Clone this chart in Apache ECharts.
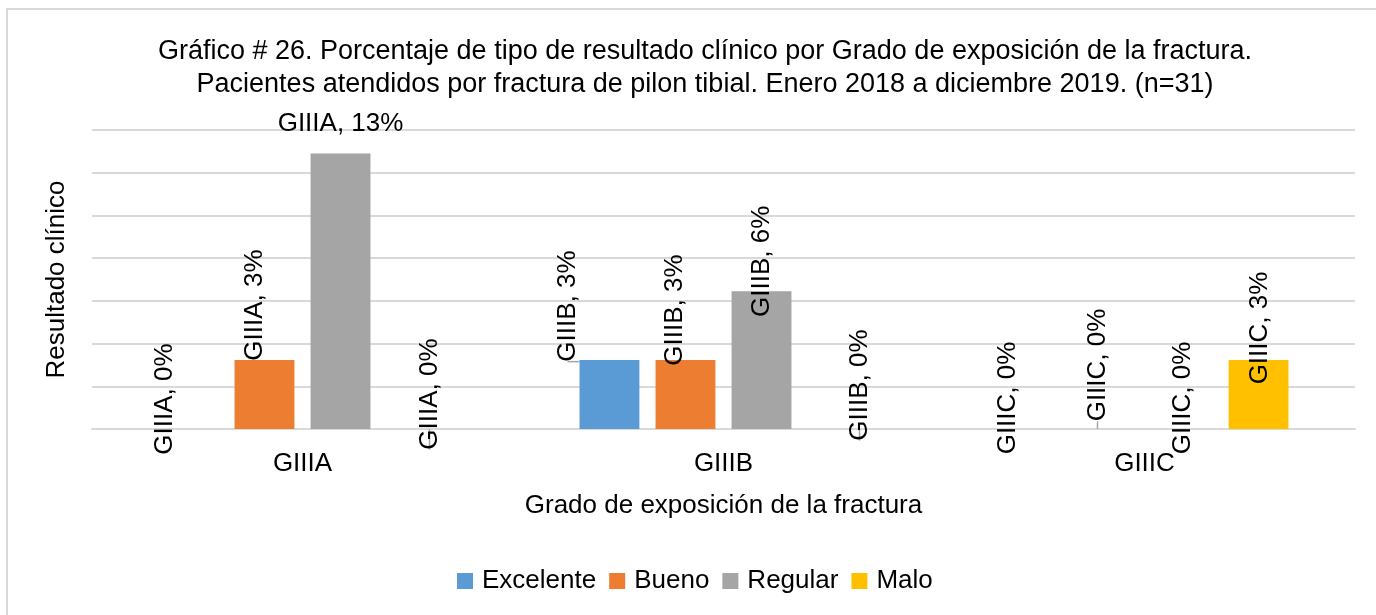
<!DOCTYPE html>
<html>
<head>
<meta charset="utf-8">
<script src="https://cdn.jsdelivr.net/npm/echarts@6/dist/echarts.min.js"></script>
<style>
html, body { margin: 0; padding: 0; background: #fff; }
#chart { width: 1376px; height: 615px; }
</style>
</head>
<body>
<div id="chart"></div>
<script>
// grados de exposicion
var categorias = ['GIIIA', 'GIIIB', 'GIIIC'];
// resultado clinico (% de n=31)
var excelente = [0, 3.23, 0];
var bueno = [3.23, 3.23, 0];
var regular = [12.9, 6.45, 0];
var malo = [0, 0, 3.23];
var ejeY = [0, 2, 4, 6, 8, 10, 12, 14];

var nombres = ['Excelente', 'Bueno', 'Regular', 'Malo'];
var valores = [excelente, bueno, regular, malo];
var colores = ['#5b9bd5', '#ed7d31', '#a5a5a5', '#ffc000'];

// desplazamiento de etiquetas en pantalla (como en el grafico original)
var despl = [
	[[-24, -30], [-42, -54], [-23, -31]],
	[[-10, -55], [-11, -50], [-9, -64]],
	[[0, -30], [0, -30], [0, -31]],
	[[13, -35], [22, -44], [1, -32]]
];
var conLinea = [
	[false, true, false],
	[true, true, true],
	[false, false, false],
	[true, true, false]
];

var fuente = 'Liberation Sans, Arial, sans-serif';

function esHorizontal(v) {
	return v > 10;
}

var series = [];
for (var s = 0; s < nombres.length; s++) {
	var datos = [];
	for (var i = 0; i < categorias.length; i++) {
		var horizontal = esHorizontal(valores[s][i]);
		datos.push({
			value: valores[s][i],
			label: { rotate: horizontal ? 0 : 90 },
			labelLine: { show: conLinea[s][i] }
		});
	}
	series.push({
		name: nombres[s],
		type: 'bar',
		data: datos,
		barGap: '27%',
		barCategoryGap: '31.6%',
		itemStyle: { color: colores[s] },
		label: {
			show: true,
			position: 'top',
			distance: 0,
			align: 'center',
			verticalAlign: 'middle',
			color: '#000',
			fontSize: 26,
			fontFamily: fuente,
			formatter: function (p) {
				return p.name + ', ' + Math.round(p.value) + '%';
			}
		},
		labelLine: { show: false, lineStyle: { color: '#a6a6a6', width: 1.5 } },
		labelLayout: (function (si) {
			return function (p) {
				var d = despl[si][p.dataIndex];
				if (esHorizontal(valores[si][p.dataIndex])) {
					return { dx: d[0], dy: d[1] };
				}
				// la etiqueta girada tambien gira el desplazamiento
				return { dx: -d[1], dy: d[0] };
			};
		})(s)
	});
}

var myChart = echarts.init(document.getElementById('chart'));
var option = {
	animation: false,
	textStyle: { fontFamily: fuente },
	title: {
		text: 'Gráfico # 26. Porcentaje de tipo de resultado clínico por Grado de exposición de la fractura.\nPacientes atendidos por fractura de pilon tibial. Enero 2018 a diciembre 2019. (n=31)',
		left: 700,
		textAlign: 'center',
		top: 30,
		textStyle: { fontSize: 27, fontWeight: 'normal', color: '#000', lineHeight: 33, fontFamily: fuente }
	},
	graphic: [{
		type: 'rect',
		shape: { x: 7, y: 9, width: 1500, height: 800 },
		style: { fill: 'none', stroke: '#d9d9d9', lineWidth: 2 },
		silent: true
	}],
	legend: {
		data: nombres,
		bottom: 16,
		left: 452,
		icon: 'rect',
		itemWidth: 16,
		itemHeight: 16,
		itemGap: 13,
		textStyle: { fontSize: 26, color: '#000', fontFamily: fuente, padding: [0, 0, 0, 4] }
	},
	grid: { left: 92, right: 21, top: 130, bottom: 186 },
	xAxis: {
		type: 'category',
		data: categorias,
		name: 'Grado de exposición de la fractura',
		nameLocation: 'middle',
		nameGap: 64,
		nameTextStyle: { fontSize: 26, color: '#000', fontFamily: fuente },
		axisLine: { lineStyle: { color: '#d9d9d9', width: 2 } },
		axisTick: { show: false },
		axisLabel: { fontSize: 26, color: '#000', margin: 22, fontFamily: fuente }
	},
	yAxis: {
		type: 'value',
		min: ejeY[0],
		max: ejeY[ejeY.length - 1],
		interval: 2,
		name: 'Resultado clínico',
		nameLocation: 'middle',
		nameGap: 22,
		nameTextStyle: { fontSize: 26, color: '#000', fontFamily: fuente },
		axisLabel: { show: false },
		axisLine: { show: false },
		axisTick: { show: false },
		splitLine: { lineStyle: { color: '#d9d9d9', width: 2 } }
	},
	series: series
};
myChart.setOption(option);
</script>
</body>
</html>
